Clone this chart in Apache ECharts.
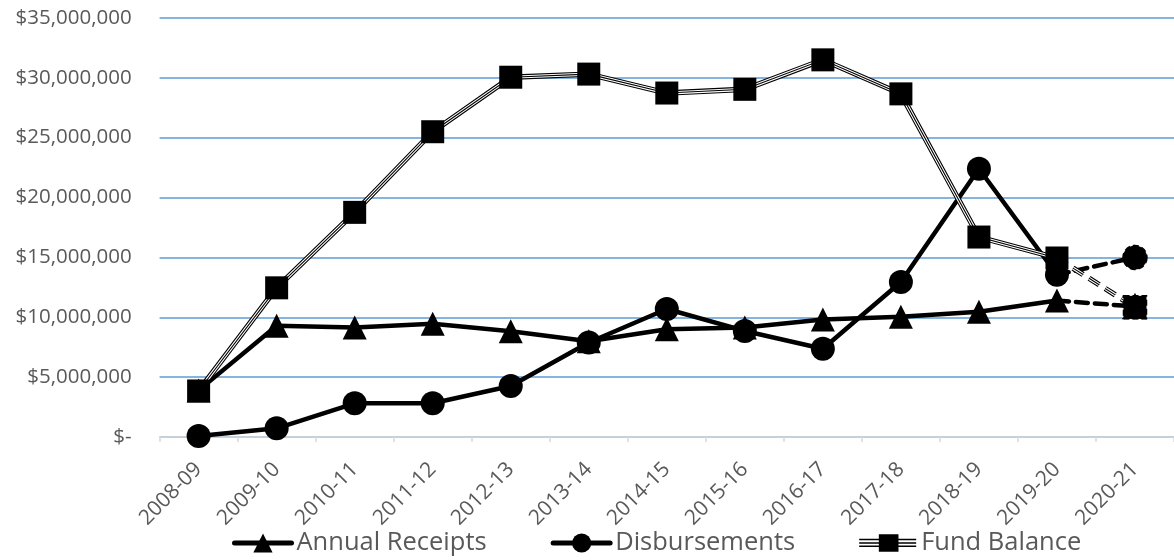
<!DOCTYPE html>
<html>
<head>
<meta charset="utf-8">
<script src="https://cdn.jsdelivr.net/npm/echarts@6/dist/echarts.min.js"></script>
<style>
  html, body { margin: 0; padding: 0; background: #fff; }
  #chart { width: 1174px; height: 560px; }
</style>
</head>
<body>
<div id="chart"></div>
<script>
const categories = ['2008-09','2009-10','2010-11','2011-12','2012-13','2013-14','2014-15','2015-16','2016-17','2017-18','2018-19','2019-20','2020-21'];
const annualReceipts = [3900000, 9290000, 9150000, 9460000, 8840000, 8000000, 9000000, 9150000, 9820000, 10050000, 10470000, 11400000, 10900000];
const disbursements = [90000, 730000, 2820000, 2820000, 4270000, 7900000, 10690000, 8860000, 7380000, 12950000, 22400000, 13550000, 15000000];
const fundBalance = [3850000, 12460000, 18760000, 25490000, 30040000, 30300000, 28720000, 29030000, 31490000, 28650000, 16700000, 14950000, 10830000];
const yTicks = { min: 0, max: 35000000, interval: 5000000 };
const projectedFrom = 11; // index of last actual year; last segment is projected

const FONT = '"Open Sans", "Noto Sans", sans-serif';

function actual(arr) { return arr.map((v, i) => i <= projectedFrom ? v : null); }
function projected(arr) {
  return arr.map((v, i) => {
    if (i < projectedFrom) return null;
    if (i === projectedFrom) return { value: v, symbol: 'none' };
    return v;
  });
}

const dash = [12, 7];
const markerSize = 24;
const chart = echarts.init(document.getElementById('chart'), null, { renderer: 'canvas' });

function lineSeries(name, data, symbol, opts) {
  return Object.assign({
    name: name,
    type: 'line',
    data: data,
    symbol: symbol,
    symbolSize: markerSize,
    showSymbol: symbol !== 'none',
    connectNulls: false,
    silent: true,
    animation: false,
    emphasis: { disabled: true },
    lineStyle: { color: '#000', width: 4.5, cap: 'round', join: 'round' },
    itemStyle: { color: '#000', borderColor: '#000', borderWidth: 0 }
  }, opts || {});
}

const fbIcon = 'path://M0,7.8H22V9.3H0Z M0,11.2H22V12.7H0Z M0,14.6H22V16.1H0Z M20,3H40V21H20Z M38,7.8H58V9.3H38Z M38,11.2H58V12.7H38Z M38,14.6H58V16.1H38Z';

const option = {
  backgroundColor: '#fff',
  animation: false,
  grid: { left: 159.6, top: 17.8, width: 1021.8, bottom: 122.9, containLabel: false },
  legend: {
    left: 227,
    top: 525,
    itemWidth: 57,
    itemHeight: 24,
    itemGap: 64,
    selectedMode: false,
    lineStyle: { width: 5 },
    textStyle: { color: '#595959', fontSize: 25.5, fontFamily: FONT },
    data: [
      { name: 'Annual Receipts' },
      { name: 'Disbursements' },
      { name: 'Fund Balance', icon: fbIcon }
    ]
  },
  xAxis: {
    type: 'category',
    data: categories,
    boundaryGap: true,
    axisLine: { show: true, lineStyle: { color: '#d9d9d9', width: 1.5 } },
    axisTick: { show: true, length: 5, lineStyle: { color: '#d9d9d9', width: 1.5 } },
    axisLabel: { rotate: 45, margin: 29, color: '#595959', fontSize: 21, fontFamily: FONT, interval: 0 },
    splitLine: { show: false }
  },
  yAxis: {
    type: 'value',
    min: yTicks.min,
    max: yTicks.max,
    interval: yTicks.interval,
    axisLine: { show: false },
    axisTick: { show: false },
    axisLabel: {
      margin: 28,
      color: '#595959',
      fontSize: 20.5,
      fontFamily: FONT,
      formatter: v => v === 0 ? '$-' : '$' + v.toLocaleString('en-US')
    },
    splitLine: { show: true, lineStyle: { color: '#5b9bd5', width: 1.6 } }
  },
  series: [
    lineSeries('Annual Receipts', actual(annualReceipts), 'triangle'),
    lineSeries('Receipts projected', projected(annualReceipts), 'triangle', {
      lineStyle: { color: '#000', width: 4.5, type: dash, cap: 'round' },
      itemStyle: { color: '#000', borderColor: '#000', borderWidth: 1.5, borderType: 'dashed' }
    }),
    lineSeries('Disbursements', actual(disbursements), 'circle'),
    lineSeries('Disbursements projected', projected(disbursements), 'circle', {
      lineStyle: { color: '#000', width: 4.5, type: dash, cap: 'round' },
      itemStyle: { color: '#000', borderColor: '#000', borderWidth: 1.5, borderType: 'dashed' }
    }),
    lineSeries('FB outer', actual(fundBalance), 'none', { lineStyle: { color: '#000', width: 5.4, join: 'miter' } }),
    lineSeries('FB gap', actual(fundBalance), 'none', { lineStyle: { color: '#fff', width: 3.2, join: 'miter' } }),
    lineSeries('FB proj outer', projected(fundBalance), 'none', { lineStyle: { color: '#000', width: 5.4, type: dash } }),
    lineSeries('FB proj gap', projected(fundBalance), 'none', { lineStyle: { color: '#fff', width: 3.2, type: dash } }),
    lineSeries('FB proj core', projected(fundBalance), 'rect', {
      symbolSize: 23,
      lineStyle: { color: '#000', width: 1.1, type: dash },
      itemStyle: { color: '#000', borderColor: '#000', borderWidth: 1.5, borderType: 'dashed' }
    }),
    lineSeries('Fund Balance', actual(fundBalance), 'rect', {
      symbolSize: 23,
      lineStyle: { color: '#000', width: 1.1, join: 'miter' }
    })
  ]
};
chart.setOption(option);
</script>
</body>
</html>
